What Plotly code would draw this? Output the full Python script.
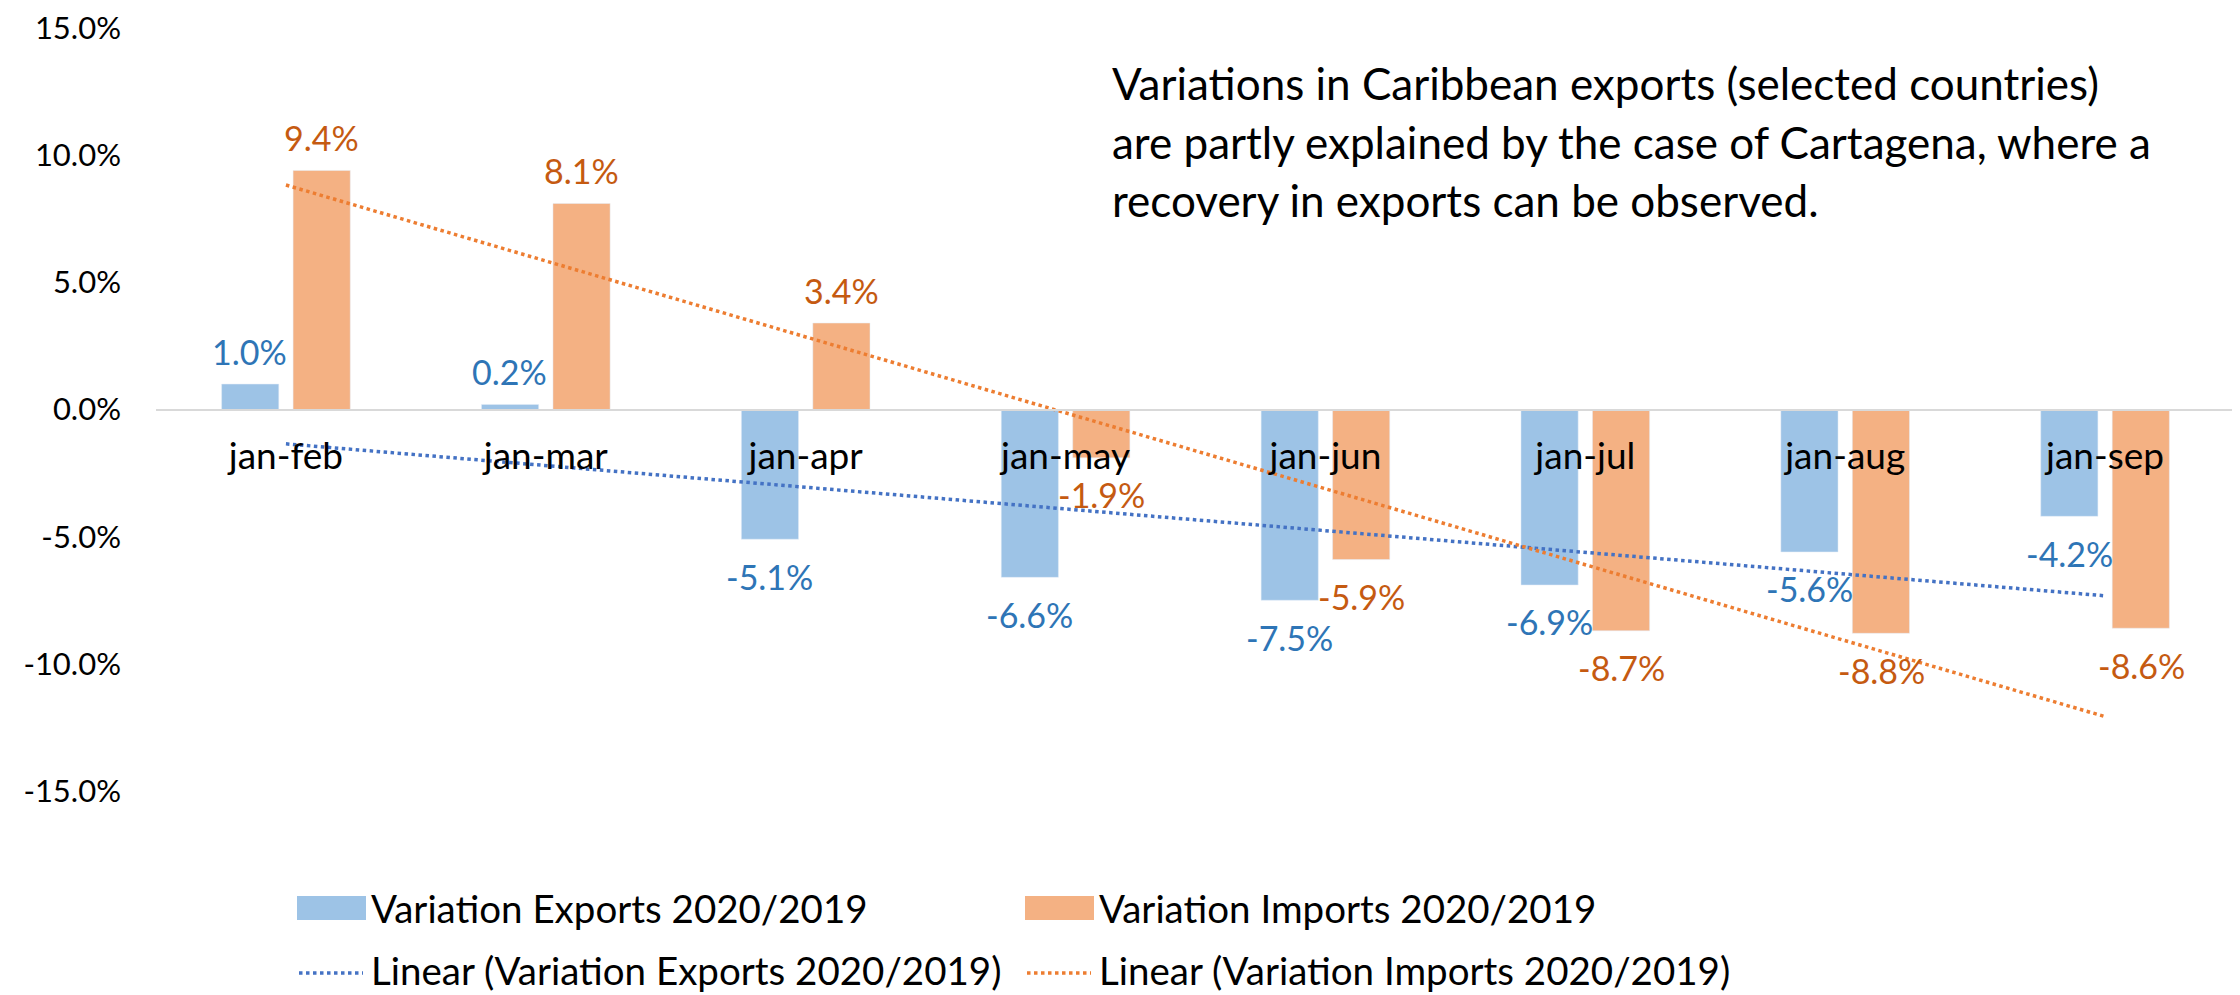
import numpy as np
import plotly.graph_objects as go

# ---------------- data ----------------
categories = ["jan-feb", "jan-mar", "jan-apr", "jan-may", "jan-jun", "jan-jul", "jan-aug", "jan-sep"]
exports = [1.0, 0.2, -5.1, -6.6, -7.5, -6.9, -5.6, -4.2]
imports = [9.4, 8.1, 3.4, -1.9, -5.9, -8.7, -8.8, -8.6]
y_ticks = [-15, -10, -5, 0, 5, 10, 15]
export_name = "Variation Exports 2020/2019"
import_name = "Variation Imports 2020/2019"
export_trend_name = "Linear (Variation Exports 2020/2019)"
import_trend_name = "Linear (Variation Imports 2020/2019)"
note_lines = [
    "Variations in Caribbean exports (selected countries)",
    "are partly explained by the case of Cartagena, where a",
    "recovery in exports can be observed.",
]

# ---------------- styles ----------------
FONT = "Lato"
C_EXP_BAR = "#9DC3E6"
C_IMP_BAR = "#F4B183"
C_EXP_TXT = "#2E75B6"
C_IMP_TXT = "#C55A11"
C_EXP_TR = "#4472C4"
C_IMP_TR = "#ED7D31"

OFF = 8  # page body margin
W, H = 2240 - OFF, 995 - OFF
ML, MR, MT, MB = 156 - OFF, 5, 20, 204
PW, PH = W - ML - MR, H - MT - MB


def px_x(px):
    return (px - OFF - ML) / PW


def px_y(py):
    return (H - MB - (py - OFF)) / PH


# linear trend lines (least squares, as the spreadsheet trendline)
xs = np.arange(1, len(categories) + 1)
exp_fit = np.polyval(np.polyfit(xs, exports, 1), xs)
imp_fit = np.polyval(np.polyfit(xs, imports, 1), xs)

fig = go.Figure()
fig.add_trace(go.Bar(x=categories, y=exports, name=export_name, marker_color=C_EXP_BAR))
fig.add_trace(go.Bar(x=categories, y=imports, name=import_name, marker_color=C_IMP_BAR))
fig.add_trace(go.Scatter(x=categories, y=exp_fit, mode="lines", name=export_trend_name,
                         line=dict(color=C_EXP_TR, width=3.5, dash="dot")))
fig.add_trace(go.Scatter(x=categories, y=imp_fit, mode="lines", name=import_trend_name,
                         line=dict(color=C_IMP_TR, width=3.5, dash="dot")))

annotations = []
LABEL_SIZE = 34
for cat, v in zip(categories, exports):
    annotations.append(dict(x=cat, y=v, xref="x", yref="y", text=f"{v:.1f}%", showarrow=False,
                            xshift=-36, yshift=33 if v >= 0 else -37,
                            font=dict(family=FONT, size=LABEL_SIZE, color=C_EXP_TXT)))
for cat, v in zip(categories, imports):
    annotations.append(dict(x=cat, y=v, xref="x", yref="y", text=f"{v:.1f}%", showarrow=False,
                            xshift=36, yshift=33 if v >= 0 else -37,
                            font=dict(family=FONT, size=LABEL_SIZE, color=C_IMP_TXT)))

# note text box
for i, line in enumerate(note_lines):
    annotations.append(dict(x=px_x(1110), y=px_y(83 + i * 58.5), xref="paper", yref="paper",
                            xanchor="left", yanchor="middle", text=line, showarrow=False,
                            font=dict(family=FONT, size=44, color="#000000")))

# custom legend
LEG_SIZE = 38.5
shapes = []
legend_items = [
    ("bar", C_EXP_BAR, export_name, 297, 908),
    ("bar", C_IMP_BAR, import_name, 1025, 908),
    ("line", C_EXP_TR, export_trend_name, 297, 970),
    ("line", C_IMP_TR, import_trend_name, 1025, 970),
]
for kind, col, name, x0, yc in legend_items:
    if kind == "bar":
        shapes.append(dict(type="rect", xref="paper", yref="paper",
                           x0=px_x(x0), x1=px_x(x0 + 69), y0=px_y(yc - 12), y1=px_y(yc + 12),
                           fillcolor=col, line=dict(width=0)))
    else:
        shapes.append(dict(type="line", xref="paper", yref="paper",
                           x0=px_x(x0 + 2), x1=px_x(x0 + 66), y0=px_y(yc + 3), y1=px_y(yc + 3),
                           line=dict(color=col, width=3.5, dash="dot")))
    annotations.append(dict(x=px_x(x0 + 72), y=px_y(yc), xref="paper", yref="paper",
                            xanchor="left", yanchor="middle", text=name, showarrow=False,
                            font=dict(family=FONT, size=LEG_SIZE, color="#000000")))

fig.update_layout(
    width=W, height=H,
    margin=dict(l=ML, r=MR, t=MT, b=MB, autoexpand=False),
    paper_bgcolor="white", plot_bgcolor="white",
    barmode="group", bargap=0.45, bargroupgap=0.2,
    showlegend=False,
    annotations=annotations, shapes=shapes,
    font=dict(family=FONT, size=32, color="#000000"),
)
fig.update_xaxes(
    type="category", anchor="free", position=0.5,
    showline=True, linecolor="#D9D9D9", linewidth=2,
    showgrid=False, zeroline=False, ticks="", ticklabelstandoff=14,
    tickfont=dict(family=FONT, size=37, color="#000000"),
)
fig.update_yaxes(
    range=[-15, 15], tickvals=y_ticks, ticktext=[f"{t:.1f}%" for t in y_ticks],
    showgrid=False, zeroline=False, showline=False, ticks="", ticklabelstandoff=34,
    ticklabeloverflow="allow",
    tickfont=dict(family=FONT, size=31, color="#000000"),
)

fig.write_html("out.html")
